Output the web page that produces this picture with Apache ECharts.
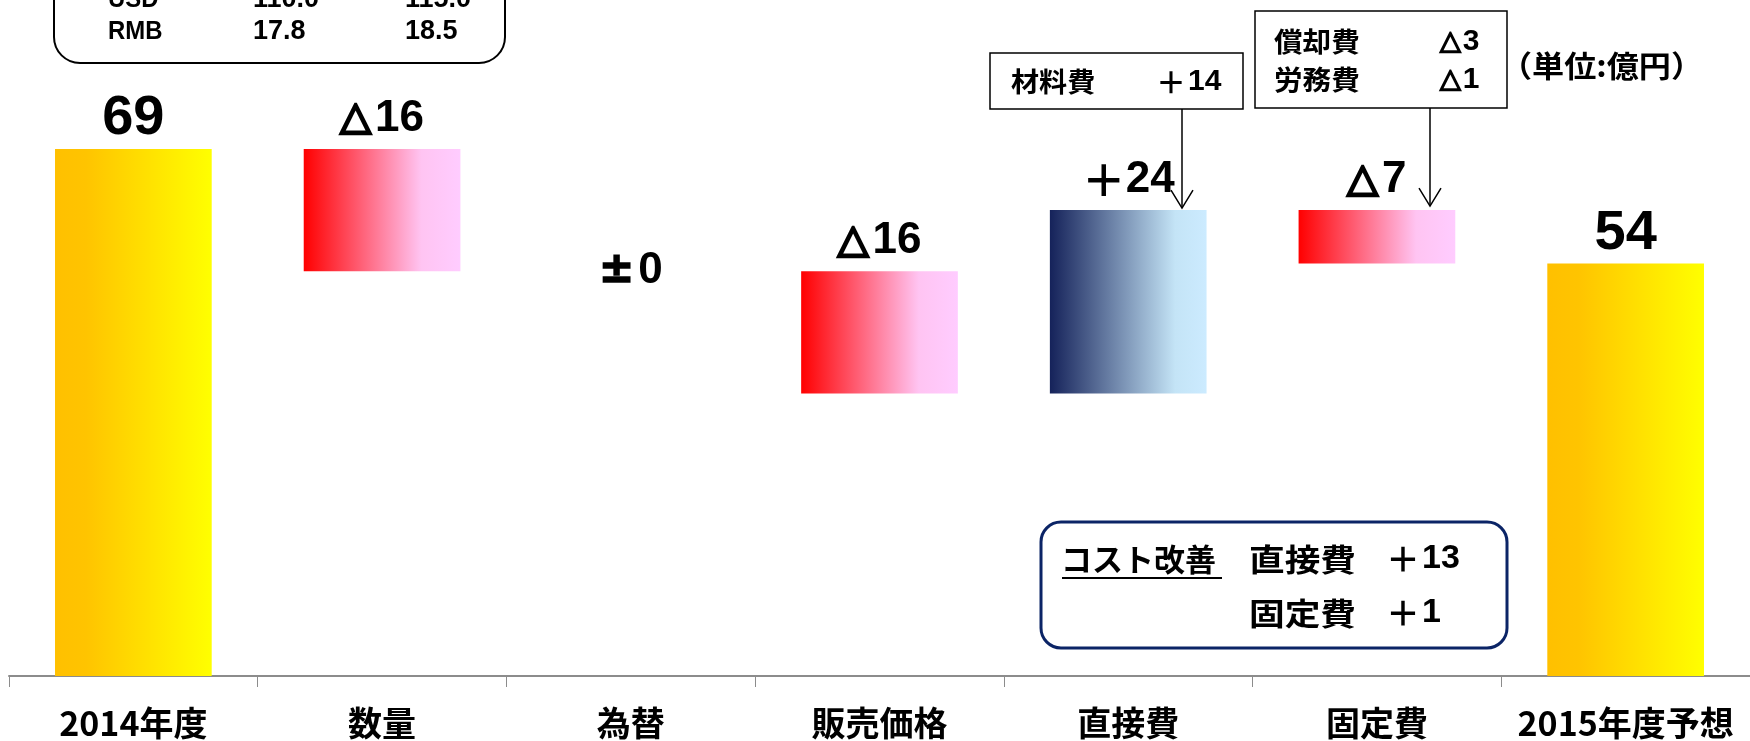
<!DOCTYPE html>
<html>
<head>
<meta charset="utf-8">
<script src="https://cdn.jsdelivr.net/npm/echarts@6/dist/echarts.min.js"></script>
<style>
  html, body { margin: 0; padding: 0; background: #ffffff; }
  #chart { width: 1750px; height: 741px; }
</style>
</head>
<body>
<div id="chart"></div>
<script>
// 営業利益の増減要因（単位：億円）
const categories = ['2014年度', '数量', '為替', '販売価格', '直接費', '固定費', '2015年度予想'];
const kinds = ['total', 'delta', 'delta', 'delta', 'delta', 'delta', 'total'];
const values = [69, -16, 0, -16, 24, -7, 54];
const valueLabels = ['69', '△16', '±0', '△16', '＋24', '△7', '54'];

// 為替レート（円）
const fxCurrencies = ['USD', 'RMB'];
const fx2014 = ['110.0', '17.8'];
const fx2015 = ['115.0', '18.5'];

// 内訳
const directBreakdown = [['材料費', '＋14']];
const fixedBreakdown = [['償却費', '△3'], ['労務費', '△1']];
const costImprove = [['直接費', '＋13'], ['固定費', '＋1']];

const NUM_FONT = '"Liberation Sans", "Noto Sans CJK JP", sans-serif';
const SYM_FONT = '"DejaVu Sans", "Noto Sans CJK JP", sans-serif';
const JP_FONT = '"Noto Sans CJK JP", "Liberation Sans", sans-serif';

function grad(stops) {
  return new echarts.graphic.LinearGradient(0, 0, 1, 0,
    stops.map(c => ({ offset: c[0], color: c[1] })));
}
const totalFill = () => grad([[0, '#FFC000'], [0.2, '#FFC400'], [1, '#FFFF00']]);
const minusFill = () => grad([[0, '#FF0000'], [0.75, '#FFC4F2'], [1, '#FFCCFF']]);
const plusFill = () => grad([[0, '#15225A'], [0.8, '#C4E4F6'], [1, '#CCEBFF']]);

// 積み上げの土台と見える棒を累計から組み立てる
const baseData = [];
const barData = [];
let running = 0;
values.forEach((v, i) => {
  if (kinds[i] === 'total') {
    baseData.push(0);
    barData.push({ value: v, itemStyle: { color: totalFill() }, label: { distance: 2 } });
    running = v;
  } else {
    const next = running + v;
    baseData.push(Math.min(running, next));
    const item = { value: Math.abs(v), itemStyle: { color: v >= 0 ? plusFill() : minusFill() },
                   label: { distance: 8 } };
    if (v === 0) item.label = { position: 'inside' };
    barData.push(item);
    running = next;
  }
});

// 値ラベル：記号（△ ± ＋）と数字を別の書体で描く
function labelRich(i) {
  const s = valueLabels[i];
  if (kinds[i] === 'total') return '{t|' + s + '}';
  const m = s.match(/^([^0-9]*)([0-9].*)$/);
  const sym = m[1];
  const symStyle = sym === '△' ? 'tri' : (sym === '±' ? 'pm' : 'plus');
  return '{' + symStyle + '|' + sym + '}{n|' + m[2] + '}';
}

const chart = echarts.init(document.getElementById('chart'), null, { renderer: 'canvas' });

chart.setOption({
  animation: false,
  backgroundColor: '#ffffff',
  grid: { left: 9, right: 0, top: 65, bottom: 65 },
  xAxis: {
    type: 'category',
    data: categories,
    boundaryGap: true,
    axisLine: { lineStyle: { color: '#8C8C8C', width: 2 } },
    axisTick: { show: true, length: 11, lineStyle: { color: '#8C8C8C', width: 1 } },
    axisLabel: {
      interval: 0, margin: 30, color: '#000000',
      fontFamily: JP_FONT, fontWeight: 'bold', fontSize: 34
    }
  },
  yAxis: { type: 'value', min: 0, max: 80, show: false, splitLine: { show: false } },
  series: [
    {
      type: 'bar', stack: 'w', data: baseData, barWidth: '63%',
      itemStyle: { color: 'transparent' }, silent: true
    },
    {
      type: 'bar', stack: 'w', data: barData, barWidth: '63%',
      label: {
        show: true, position: 'top', color: '#000000',
        formatter: p => labelRich(p.dataIndex),
        rich: {
          t: { fontFamily: NUM_FONT, fontWeight: 'bold', fontSize: 56, color: '#000' },
          n: { fontFamily: NUM_FONT, fontWeight: 'bold', fontSize: 44, color: '#000' },
          tri: { fontFamily: SYM_FONT, fontWeight: 'bold', fontSize: 40, color: '#000',
                 textBorderColor: '#000', textBorderWidth: 2.6, padding: [0, 4, 0, 0] },
          pm: { fontFamily: SYM_FONT, fontWeight: 'bold', fontSize: 42, color: '#000',
                textBorderColor: '#000', textBorderWidth: 1.6, padding: [0, 4, 0, 0] },
          plus: { fontFamily: JP_FONT, fontWeight: 'bold', fontSize: 44, color: '#000' }
        }
      }
    }
  ]
});

// 矢印の先端は棒の上端に合わせる
let acc = 0;
const tops = values.map((v, i) => {
  if (kinds[i] === 'total') { acc = v; return v; }
  const top = Math.max(acc, acc + v); acc += v; return top;
});
const tipDirect = chart.convertToPixel({ yAxisIndex: 0 }, tops[4]) - 2;
const tipFixed = chart.convertToPixel({ yAxisIndex: 0 }, tops[5]) - 4;

function txt(x, y, s, size, font, sx) {
  return {
    type: 'text', x: x, y: y, scaleX: sx || 1,
    style: { text: s, fill: '#000000', font: 'bold ' + size + 'px ' + font,
             textAlign: 'left', textVerticalAlign: 'middle' }
  };
}
// 記号＋数字の組（△3、＋14 など）
function symNum(x, y, s, size) {
  const sym = s.charAt(0);
  const num = s.slice(1);
  const isTri = sym === '△';
  return {
    type: 'text', x: x, y: y,
    style: {
      text: '{s|' + sym + '}{n|' + num + '}', textAlign: 'left', textVerticalAlign: 'middle',
      rich: {
        s: { fontFamily: isTri ? SYM_FONT : JP_FONT, fontWeight: 'bold',
             fontSize: isTri ? size - 3 : size, fill: '#000',
             stroke: isTri ? '#000' : null, lineWidth: isTri ? 1.6 : 0,
             padding: [0, 2, 0, 0] },
        n: { fontFamily: NUM_FONT, fontWeight: 'bold', fontSize: size, fill: '#000' }
      }
    }
  };
}
function arrow(x, y0, y1) {
  return [
    { type: 'line', shape: { x1: x, y1: y0, x2: x, y2: y1 }, style: { stroke: '#000', lineWidth: 1.5 } },
    { type: 'polyline', shape: { points: [[x - 11, y1 - 18], [x, y1], [x + 11, y1 - 18]] },
      style: { stroke: '#000', lineWidth: 1.5, fill: null } }
  ];
}

const g = [];
// 為替レート枠
g.push({ type: 'rect', shape: { x: 54, y: -120, width: 451, height: 183, r: 26 },
  style: { fill: '#ffffff', stroke: '#000000', lineWidth: 2 } });
const fxY = [0, 32];
fxCurrencies.forEach((c, i) => {
  g.push(txt(108, fxY[i], c, 26, NUM_FONT, 0.92));
  g.push(txt(253, fxY[i], fx2014[i], 27, NUM_FONT));
  g.push(txt(405, fxY[i], fx2015[i], 27, NUM_FONT));
});

// 直接費の内訳
g.push({ type: 'rect', shape: { x: 990, y: 53, width: 253, height: 56 },
  style: { fill: '#ffffff', stroke: '#000000', lineWidth: 1.5 } });
directBreakdown.forEach(r => {
  g.push(txt(1011, 82, r[0], 27, JP_FONT, 1.04));
  g.push(symNum(1156, 82, r[1], 30));
});
g.push(...arrow(1182, 109, tipDirect));

// 固定費の内訳
g.push({ type: 'rect', shape: { x: 1255, y: 11, width: 252, height: 97 },
  style: { fill: '#ffffff', stroke: '#000000', lineWidth: 1.5 } });
const fbY = [42, 80];
fixedBreakdown.forEach((r, i) => {
  g.push(txt(1274, fbY[i], r[0], 27, JP_FONT, 1.06));
  g.push(symNum(1440, fbY[i], r[1], 30));
});
g.push(...arrow(1430, 108, tipFixed));

// 単位
g.push(txt(1500, 66, '（単位:億円）', 30, JP_FONT, 1.07));

// コスト改善枠
g.push({ type: 'rect', shape: { x: 1041, y: 522, width: 466, height: 126, r: 20 },
  style: { fill: '#ffffff', stroke: '#0B2466', lineWidth: 3 } });
g.push(txt(1061, 559, 'コスト改善', 31, JP_FONT));
g.push({ type: 'line', shape: { x1: 1062, y1: 578, x2: 1222, y2: 578 }, style: { stroke: '#000', lineWidth: 2 } });
const ciY = [559, 613];
costImprove.forEach((r, i) => {
  g.push(txt(1249, ciY[i], r[0], 31, JP_FONT, 1.15));
  g.push(symNum(1386, ciY[i], r[1], 34));
});

chart.setOption({ graphic: { elements: g } });
</script>
</body>
</html>
